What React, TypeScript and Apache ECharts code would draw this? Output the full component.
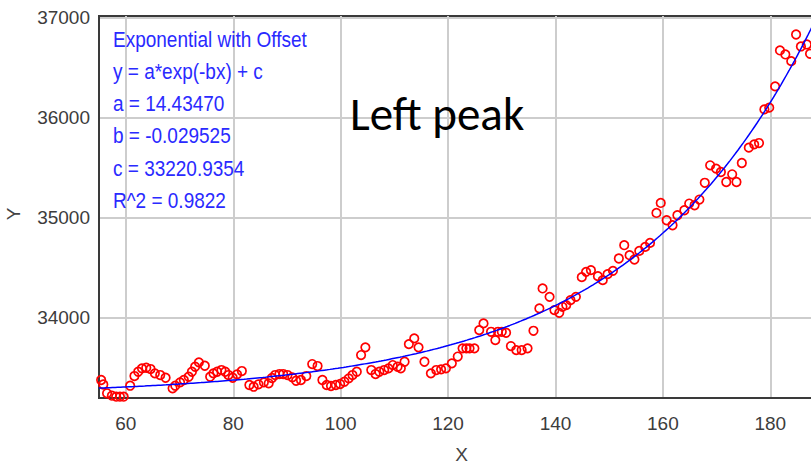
import React, { useEffect, useRef } from "react";
import * as echarts from "echarts";

// Measured samples (X, Y)
const sampleX: number[] = [
  55.4, 55.8, 56.5, 57.4, 58.2, 58.9, 59.6, 60.8, 61.6, 62.3, 63.0, 63.8, 64.6, 65.4, 66.4, 67.4,
  68.7, 69.2, 70.1, 70.8, 71.7, 72.3, 72.9, 73.6, 74.7, 75.7, 76.3, 77.0, 77.8, 78.5, 79.1, 79.9,
  80.7, 81.6, 83.0, 83.8, 84.7, 85.7, 86.6, 87.2, 87.8, 88.6, 89.3, 90.1, 91.0, 91.7, 92.6, 93.6,
  94.7, 95.7, 96.6, 97.4, 98.2, 99.1, 99.9, 100.7, 101.5, 102.2, 103.0, 103.8, 104.6, 105.7, 106.5,
  107.2, 108.1, 108.9, 109.7, 110.6, 111.2, 111.9, 112.7, 113.7, 114.5, 115.6, 116.8, 117.8, 118.7,
  119.6, 120.7, 121.8, 122.7, 123.4, 124.0, 124.9, 125.8, 126.6, 128.0, 128.8, 129.3, 130.0, 130.8,
  131.7, 132.7, 133.7, 134.8, 135.9, 137.0, 137.6, 138.9, 139.8, 140.7, 141.3, 142.0, 142.8, 143.8,
  144.9, 145.7, 146.6, 147.9, 148.8, 149.7, 150.7, 151.8, 152.8, 153.8, 154.7, 155.6, 156.7, 157.6,
  158.8, 159.6, 160.7, 161.8, 162.7, 164.0, 164.9, 165.9, 166.8, 167.8, 168.8, 169.9, 170.8, 171.8,
  172.9, 173.7, 174.7, 176.0, 177.0, 177.9, 178.9, 179.8, 180.9, 181.8, 182.8, 183.9, 184.8, 185.7,
  186.8, 187.4,
];
const sampleY: number[] = [
  33375, 33330, 33242, 33218, 33208, 33208, 33208, 33318, 33415, 33458, 33492, 33498, 33485, 33442, 33425, 33398,
  33292, 33318, 33352, 33375, 33408, 33458, 33508, 33552, 33518, 33408, 33442, 33458, 33475, 33458, 33425, 33398,
  33432, 33465, 33325, 33308, 33332, 33352, 33342, 33395, 33425, 33435, 33435, 33425, 33402, 33368, 33375, 33415,
  33535, 33515, 33375, 33325, 33315, 33325, 33335, 33358, 33392, 33425, 33458, 33625, 33702, 33475, 33435,
  33458, 33475, 33492, 33525, 33508, 33492, 33558, 33735, 33792, 33702, 33558, 33442, 33475, 33482,
  33492, 33542, 33610, 33692, 33692, 33692, 33692, 33875, 33942, 33858, 33775, 33858, 33858, 33848,
  33715, 33675, 33675, 33692, 33868, 34092, 34292, 34208, 34075, 34048, 34108, 34125, 34175, 34208,
  34405, 34458, 34475, 34415, 34375, 34435, 34468, 34592, 34725, 34625, 34582, 34668, 34708, 34748,
  35048, 35148, 34975, 34925, 35025, 35075, 35142, 35125, 35182, 35350, 35525, 35492, 35458, 35358,
  35435, 35358, 35548, 35702, 35735, 35748, 36085, 36102, 36315, 36675, 36635, 36568, 36835, 36715,
  36735, 36642,
];

// Fitted model: y = a*exp(-b*x) + c
const fitA = 14.4347;
const fitB = -0.029525;
const fitC = 33220.9354;
const fitLabels: string[] = [
  "Exponential with Offset",
  "y = a*exp(-bx) + c",
  "a = 14.43470",
  "b = -0.029525",
  "c = 33220.9354",
  "R^2 = 0.9822",
];

const xRange: [number, number] = [55, 190];
const yRange: [number, number] = [33195, 37020];

const FONT = "'Liberation Sans', Arial, sans-serif";
const FRAME = "#3a3a3a";

export default function App() {
  const ref = useRef<HTMLDivElement>(null);

  useEffect(() => {
    if (!ref.current) return;
    const chart = echarts.init(ref.current, undefined, { renderer: "svg" });

    const points = sampleX.map((x, i) => [x, sampleY[i]]);
    const curve: number[][] = [];
    for (let x = xRange[0]; x <= xRange[1] + 1e-9; x += 0.5) {
      curve.push([x, fitA * Math.exp(-fitB * x) + fitC]);
    }

    chart.setOption({
      animation: false,
      backgroundColor: "#ffffff",
      grid: {
        left: 99,
        top: 16,
        right: 6,
        bottom: 66,
        outerBoundsMode: "none",
        containLabel: false,
        show: true,
        borderColor: FRAME,
        borderWidth: 2,
        backgroundColor: "#ffffff",
      },
      xAxis: {
        type: "value",
        min: xRange[0],
        max: xRange[1],
        splitNumber: 7,
        name: "X",
        nameLocation: "middle",
        nameGap: 47,
        nameTextStyle: { fontFamily: FONT, fontSize: 19, color: "#444" },
        axisLine: { show: true, onZero: false, lineStyle: { color: FRAME, width: 2 } },
        axisTick: { show: false },
        axisLabel: {
          showMinLabel: false,
          showMaxLabel: false,
          margin: 16,
          fontFamily: FONT,
          fontSize: 19,
          color: "#3c3c3c",
          formatter: (v: number) => String(v),
        },
        splitLine: {
          show: true,
          showMinLine: false,
          showMaxLine: false,
          lineStyle: { color: "#cdcdcd", width: 2 },
        },
      },
      yAxis: {
        type: "value",
        min: yRange[0],
        max: yRange[1],
        splitNumber: 4,
        name: "Y",
        nameLocation: "middle",
        nameRotate: 90,
        nameGap: 76,
        nameTextStyle: { fontFamily: FONT, fontSize: 19, color: "#444", padding: [0, 14, 0, 0] },
        axisLine: { show: true, onZero: false, lineStyle: { color: FRAME, width: 2 } },
        axisTick: { show: false },
        axisLabel: {
          showMinLabel: false,
          showMaxLabel: false,
          margin: 9,
          fontFamily: FONT,
          fontSize: 19,
          color: "#3c3c3c",
          formatter: (v: number) => String(v),
        },
        splitLine: {
          show: true,
          showMinLine: false,
          showMaxLine: false,
          lineStyle: { color: "#cdcdcd", width: 2 },
        },
      },
      graphic: [
        ...fitLabels.map((t, i) => ({
          type: "text",
          x: 113,
          y: 39.5 + i * 32.2,
          scaleY: 1.12,
          z: 10,
          style: {
            text: t,
            fill: "#2a2aff",
            font: `19px ${FONT}`,
            verticalAlign: "middle",
          },
        })),
        {
          type: "text",
          x: 350,
          y: 114,
          z: 10,
          style: {
            text: "Left peak",
            fill: "#000000",
            font: "47px Carlito, Calibri, Lato, sans-serif",
            verticalAlign: "middle",
          },
        },
      ],
      series: [
        {
          type: "scatter",
          data: points,
          symbol: "circle",
          symbolSize: 8.5,
          clip: true,
          itemStyle: {
            color: "rgba(255,255,255,0)",
            borderColor: "#ff0000",
            borderWidth: 1.7,
            opacity: 1,
          },
          z: 2,
        },
        {
          type: "line",
          data: curve,
          showSymbol: false,
          symbol: "none",
          clip: true,
          lineStyle: { color: "#0000ff", width: 1.5 },
          z: 3,
        },
      ],
    });

    return () => chart.dispose();
  }, []);

  return (
    <div
      style={{
        position: "absolute",
        left: 0,
        top: 0,
        width: 811,
        height: 464,
        overflow: "hidden",
        background: "#ffffff",
      }}
    >
      <div ref={ref} style={{ width: 830, height: 464 }} />
    </div>
  );
}
